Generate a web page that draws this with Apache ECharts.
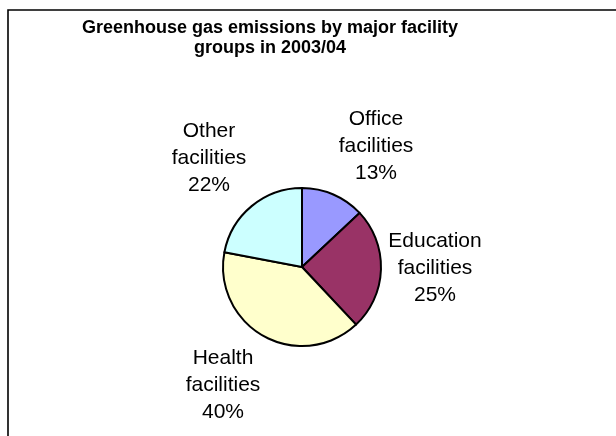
<!DOCTYPE html>
<html>
<head>
<meta charset="utf-8">
<script src="https://cdn.jsdelivr.net/npm/echarts@6/dist/echarts.min.js"></script>
<style>
  html, body { margin: 0; padding: 0; background: #fff; }
  #chart { width: 616px; height: 436px; }
</style>
</head>
<body>
<div id="chart"></div>
<script>
// Facility groups and their share of emissions (%)
const categories = ['Office\nfacilities', 'Education\nfacilities', 'Health\nfacilities', 'Other\nfacilities'];
const shares = [13, 25, 40, 22];
const sliceColors = ['#9999FF', '#993366', '#FFFFCC', '#CCFFFF'];

// Pie geometry (pixels)
const pieCenter = [302, 267];
const pieRadius = 79;
// Label block centres, as offsets from the pie centre
const labelSpots = [[74, -121], [133, 1], [-79, 118], [-93, -109]];

const chart = echarts.init(document.getElementById('chart'), null, { renderer: 'canvas' });
const font = '"Liberation Sans", Arial, sans-serif';

chart.setOption({
  backgroundColor: '#ffffff',
  animation: false,
  title: {
    text: 'Greenhouse gas emissions by major facility\ngroups in 2003/04',
    left: 270,
    top: 18,
    padding: 0,
    textAlign: 'center',
    textStyle: {
      fontFamily: font,
      fontSize: 18,
      fontWeight: 'bold',
      color: '#000',
      lineHeight: 20
    }
  },
  graphic: [{
    type: 'rect',
    silent: true,
    shape: { x: 8, y: 10, width: 700, height: 500 },
    style: { fill: 'none', stroke: '#000', lineWidth: 1.6 }
  }],
  series: [{
    type: 'pie',
    center: pieCenter,
    radius: pieRadius,
    startAngle: 90,
    clockwise: true,
    avoidLabelOverlap: false,
    color: sliceColors,
    itemStyle: { borderColor: '#000', borderWidth: 2 },
    label: {
      show: true,
      position: 'outside',
      formatter: p => p.name + '\n' + p.value + '%',
      fontFamily: font,
      fontSize: 21,
      lineHeight: 27,
      color: '#000',
      align: 'center'
    },
    labelLine: { show: false },
    labelLayout: p => ({
      x: pieCenter[0] + labelSpots[p.dataIndex][0],
      y: pieCenter[1] + labelSpots[p.dataIndex][1],
      align: 'center',
      verticalAlign: 'middle'
    }),
    emphasis: { disabled: true },
    data: categories.map((c, i) => ({ name: c, value: shares[i] }))
  }]
});
</script>
</body>
</html>
